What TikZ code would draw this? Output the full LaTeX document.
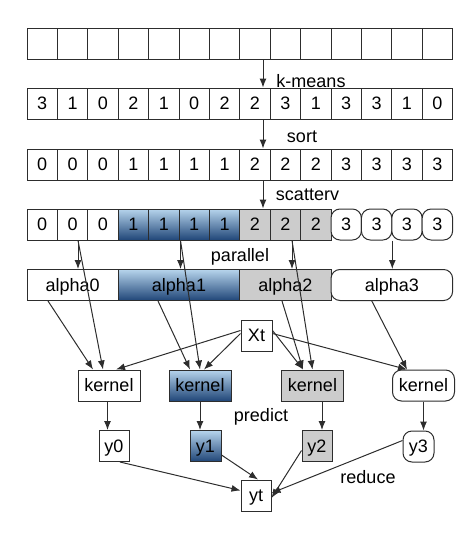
\documentclass[tikz,border=0pt]{standalone}
\usepackage{fontspec}
\setmainfont{Liberation Sans}
\usetikzlibrary{arrows.meta,positioning}

\definecolor{bluetop}{RGB}{182,212,236}
\definecolor{bluebot}{RGB}{32,70,120}
\definecolor{cellgray}{RGB}{204,204,204}
\definecolor{linegray}{RGB}{45,45,45}

\tikzset{
  box/.style={draw=linegray, line width=1pt, fill=white, minimum height=31pt, inner sep=0pt,
    text height=12.5pt, text depth=0pt, font=\fontsize{18}{21}\selectfont},
  cell/.style={box, minimum width=30.4pt},
  bluefill/.style={top color=bluetop, bottom color=bluebot},
  grayfill/.style={fill=cellgray},
  roundbox/.style={rounded corners=9pt},
  link/.style={draw=linegray, line width=1pt, -{Latex[length=9pt,width=7pt]}},
  lbl/.style={font=\fontsize{18}{21}\selectfont}
}

\begin{document}
\begin{tikzpicture}[x=1pt,y=-1pt]
    \useasboundingbox (0,0) rectangle (474,544);

    % Data rows
    \foreach \i in {0,...,13}
        \node[cell] (e\i) at ({42.2+30.4*\i},44) {};
    \foreach \v [count=\i from 0] in {3,1,0,2,1,0,2,2,3,1,3,3,1,0}
        \node[cell] (c\i) at ({42.2+30.4*\i},103.5) {\v};
    \foreach \v [count=\i from 0] in {0,0,0,1,1,1,1,2,2,2,3,3,3,3}
        \node[cell] (o\i) at ({42.2+30.4*\i},164.5) {\v};

    % Scattered row
    \foreach \i in {0,1,2}
        \node[cell] (s\i) at ({42.2+30.4*\i},224.5) {0};
    \foreach \i in {3,...,6}
        \node[cell,bluefill] (s\i) at ({42.2+30.4*\i},224.5) {1};
    \foreach \i in {7,8,9}
        \node[cell,grayfill] (s\i) at ({42.2+30.4*\i},224.5) {2};
    \foreach \i in {10,...,13}
        \node[cell,roundbox] (s\i) at ({42.2+30.4*\i},224.5) {3};

    \draw[link] ([xshift=8pt]e7.south) -- ([xshift=8pt]c7.north);
    \draw[link] ([xshift=8pt]c7.south) -- ([xshift=8pt]o7.north);
    \draw[link] ([xshift=8pt]o7.south) -- ([xshift=8pt]s7.north);
    \node[lbl] (kmeans) at (311,81) {k-means};
    \node[lbl] (sort) at (302,137) {sort};
    \node[lbl] (scatterv) at (307.5,195) {scatterv};

    % Models
    \node[box, minimum width=91.2pt] (a0) at (72.6,285) {alpha0};
    \node[box, minimum width=121.6pt, bluefill] (a1) at (179,285) {alpha1};
    \node[box, minimum width=91.2pt, grayfill] (a2) at (285.4,285) {alpha2};
    \node[box, minimum width=121.6pt, roundbox] (a3) at (391.8,285) {alpha3};
    \node[lbl] (parallel) at (240,257) {parallel};

    \node[box, minimum width=31pt] (xt) at (256.5,335.5) {Xt};
    \node[box, minimum width=62pt] (n0) at (109,385.5) {kernel};
    \node[box, minimum width=62pt, bluefill] (n1) at (200,385.5) {kernel};
    \node[box, minimum width=62pt, grayfill] (n2) at (312.5,385.5) {kernel};
    \node[box, minimum width=62pt, roundbox] (n3) at (423.5,385.5) {kernel};
    \node[lbl] (predict) at (261,417) {predict};

    \node[box, minimum width=30pt] (y0) at (114,446) {y0};
    \node[box, minimum width=31pt, bluefill] (y1) at (205.5,446) {y1};
    \node[box, minimum width=30pt, grayfill] (y2) at (317,446) {y2};
    \node[box, minimum width=31pt, roundbox] (y3) at (418.5,446.5) {y3};
    \node[box, minimum width=30pt] (yt) at (256,495.5) {yt};
    \node[lbl] (reduce) at (368,477) {reduce};

    % Group 0
    \draw[link] ([xshift=5.4pt]s1.south) -- ([xshift=5.4pt]s1.south |- a0.north);
    \draw[link] ([xshift=5.4pt]s1.south) -- ([xshift=-6pt]n0.north);
    \draw[link] ([xshift=-24.6pt]a0.south) -- ([xshift=-16pt]n0.north);
    \draw[link] ([yshift=5pt]xt.west) -- ([xshift=7pt]n0.north);
    % Group 1
    \draw[link] ([xshift=1pt]s4.south east) -- ([xshift=1pt]s4.south east |- a1.north);
    \draw[link] ([xshift=1pt]s4.south east) -- (n1.north);
    \draw[link] ([xshift=-21pt]a1.south) -- ([xshift=-10pt]n1.north);
    \draw[link] ([yshift=2pt]xt.west) -- ([xshift=4pt]n1.north);
    % Group 2
    \draw[link] ([xshift=6.6pt]s8.south) -- ([xshift=6.6pt]s8.south |- a2.north);
    \draw[link] ([xshift=6.6pt]s8.south) -- (n2.north);
    \draw[link] ([xshift=-3.4pt]a2.south) -- ([xshift=-9.5pt]n2.north);
    \draw[link] ([yshift=5pt]xt.east) -- ([xshift=-9.5pt]n2.north);
    % Group 3
    \draw[link] ([xshift=1pt]s12.south west) -- ([xshift=1pt]s12.south west |- a3.north);
    \draw[link] ([xshift=-20pt]a3.south) -- ([xshift=-16.5pt]n3.north);
    \draw[link] ([yshift=2pt]xt.east) -- ([xshift=-16.5pt]n3.north);

    % Predict
    \draw[link] ([xshift=-1.5pt]n0.south) -- ([xshift=-1.5pt]n0.south |- y0.north);
    \draw[link] (n1.south) -- (n1.south |- y1.north);
    \draw[link] ([xshift=9.5pt]n2.south) -- ([xshift=9.5pt]n2.south |- y2.north);
    \draw[link] (n3.south) -- (n3.south |- y3.north);

    % Reduce
    \draw[link] ([xshift=6pt]y0.south) -- ([yshift=5pt]yt.west);
    \draw[link] ([yshift=-9pt]y1.east) -- ([xshift=2pt]yt.north);
    \draw[link] ([yshift=-4.5pt]y2.west) -- ([yshift=-2.5pt]yt.east);
    \draw[link] ([yshift=6pt]y3.west) -- ([yshift=2.5pt]yt.east);
\end{tikzpicture}
\end{document}
